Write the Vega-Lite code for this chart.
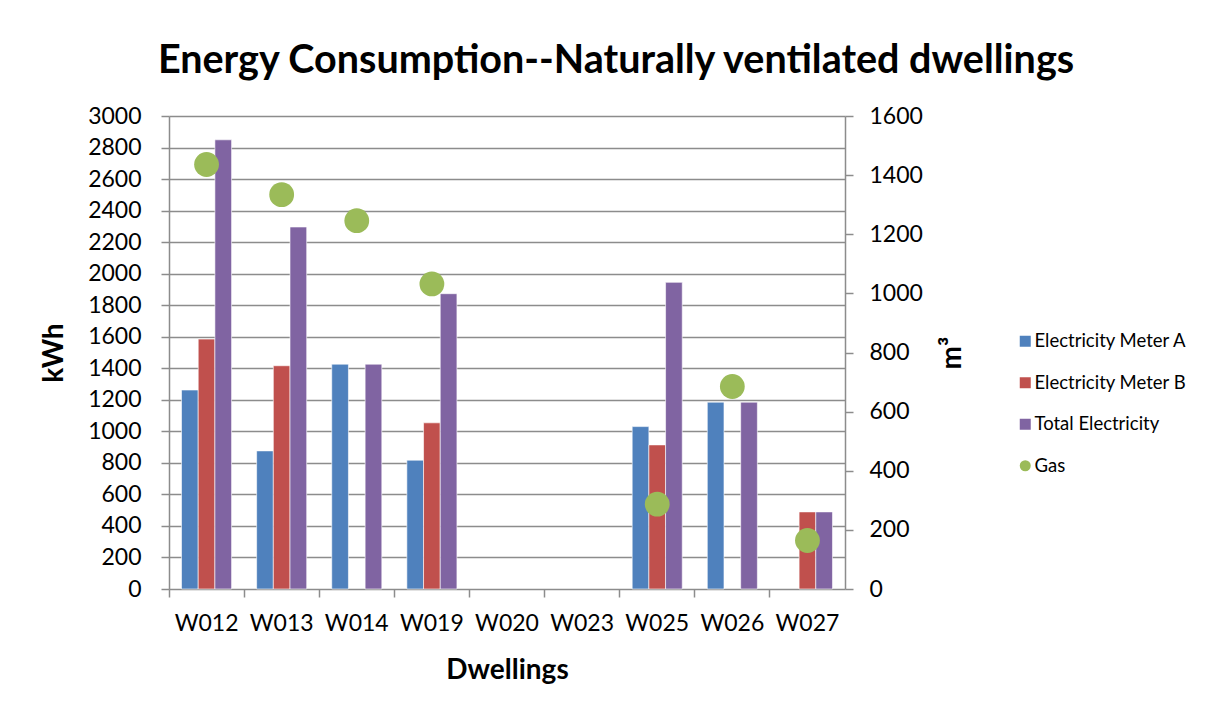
{
  "$schema": "https://vega.github.io/schema/vega-lite/v6.json",
  "width": 676,
  "height": 473,
  "autosize": {"type": "none"},
  "padding": {"left": 169, "top": 116, "right": 370, "bottom": 122},
  "background": "white",
  "config": {
    "font": "Lato",
    "view": {"stroke": null},
    "axis": {
      "labelColor": "black",
      "labelFontSize": 23,
      "labelFont": "Lato",
      "titleColor": "black",
      "titleFont": "Lato",
      "titleFontSize": 28,
      "titleFontWeight": "bold",
      "domainColor": "#8c8c8c",
      "tickColor": "#8c8c8c",
      "gridColor": "#8c8c8c",
      "domainWidth": 1.5,
      "tickWidth": 1.5,
      "gridWidth": 1.5,
      "tickSize": 8
    }
  },
  "title": {
    "text": "Energy Consumption--Naturally ventilated dwellings",
    "font": "Lato",
    "fontSize": 39.5,
    "fontWeight": "bold",
    "color": "black",
    "anchor": "middle",
    "frame": "group",
    "baseline": "alphabetic",
    "dx": 109,
    "offset": -7
  },
  "datasets": {
    "elec": [
      {"dwelling": "W012", "series": "Electricity Meter A", "kwh": 1262},
      {"dwelling": "W012", "series": "Electricity Meter B", "kwh": 1585},
      {"dwelling": "W012", "series": "Total Electricity", "kwh": 2849},
      {"dwelling": "W013", "series": "Electricity Meter A", "kwh": 876},
      {"dwelling": "W013", "series": "Electricity Meter B", "kwh": 1416},
      {"dwelling": "W013", "series": "Total Electricity", "kwh": 2296},
      {"dwelling": "W014", "series": "Electricity Meter A", "kwh": 1426},
      {"dwelling": "W014", "series": "Total Electricity", "kwh": 1426},
      {"dwelling": "W019", "series": "Electricity Meter A", "kwh": 817},
      {"dwelling": "W019", "series": "Electricity Meter B", "kwh": 1054},
      {"dwelling": "W019", "series": "Total Electricity", "kwh": 1873},
      {"dwelling": "W025", "series": "Electricity Meter A", "kwh": 1030},
      {"dwelling": "W025", "series": "Electricity Meter B", "kwh": 914},
      {"dwelling": "W025", "series": "Total Electricity", "kwh": 1945},
      {"dwelling": "W026", "series": "Electricity Meter A", "kwh": 1185},
      {"dwelling": "W026", "series": "Total Electricity", "kwh": 1185},
      {"dwelling": "W027", "series": "Electricity Meter B", "kwh": 489},
      {"dwelling": "W027", "series": "Total Electricity", "kwh": 489}
    ],
    "gas": [
      {"dwelling": "W012", "series": "Gas", "m3": 1436},
      {"dwelling": "W013", "series": "Gas", "m3": 1334},
      {"dwelling": "W014", "series": "Gas", "m3": 1246},
      {"dwelling": "W019", "series": "Gas", "m3": 1032},
      {"dwelling": "W025", "series": "Gas", "m3": 287},
      {"dwelling": "W026", "series": "Gas", "m3": 685},
      {"dwelling": "W027", "series": "Gas", "m3": 164}
    ]
  },
  "layer": [
    {
      "data": {"name": "elec"},
      "mark": {"type": "bar", "stroke": "white", "strokeWidth": 0.6},
      "encoding": {
        "x": {
          "field": "dwelling",
          "type": "nominal",
          "scale": {"domain": ["W012", "W013", "W014", "W019", "W020", "W023", "W025", "W026", "W027"], "paddingInner": 0, "paddingOuter": 0},
          "axis": {"title": "Dwellings", "labelAngle": 0, "bandPosition": 0, "labelPadding": 15, "titlePadding": 21, "domain": false}
        },
        "xOffset": {
          "field": "series",
          "type": "nominal",
          "scale": {"domain": ["Electricity Meter A", "Electricity Meter B", "Total Electricity"], "paddingOuter": 0.75, "paddingInner": 0}
        },
        "y": {
          "field": "kwh",
          "type": "quantitative",
          "scale": {"domain": [0, 3000], "nice": false},
          "axis": {"title": "kWh", "orient": "left", "format": "d", "values": [0,200,400,600,800,1000,1200,1400,1600,1800,2000,2200,2400,2600,2800,3000], "grid": true, "labelPadding": 20, "titlePadding": 19}
        },
        "color": {
          "field": "series",
          "type": "nominal",
          "scale": {"domain": ["Electricity Meter A", "Electricity Meter B", "Total Electricity", "Gas"], "range": ["#4F81BD", "#C0504D", "#8064A2", "#9BBB59"]},
          "legend": {
            "title": null,
            "orient": "none",
            "legendX": 847,
            "legendY": 216,
            "labelFontSize": 18.5,
            "labelColor": "black",
            "labelFont": "Lato",
            "symbolSize": 121,
            "symbolStrokeWidth": 0,
            "rowPadding": 22.5,
            "labelOffset": 0
          }
        }
      }
    },
    {
      "data": {"name": "gas"},
      "mark": {"type": "point", "filled": true, "size": 615, "opacity": 1},
      "encoding": {
        "x": {"field": "dwelling", "type": "nominal"},
        "y": {
          "field": "m3",
          "type": "quantitative",
          "scale": {"domain": [0, 1600], "nice": false},
          "axis": {"title": "m³", "orient": "right", "format": "d", "titleAngle": 270, "values": [0,200,400,600,800,1000,1200,1400,1600], "grid": false, "labelPadding": 16, "titlePadding": 44}
        },
        "color": {"field": "series", "type": "nominal"},
        "shape": {
          "field": "series",
          "type": "nominal",
          "scale": {"domain": ["Electricity Meter A", "Electricity Meter B", "Total Electricity", "Gas"], "range": ["square", "square", "square", "circle"]},
          "legend": {
            "title": null,
            "orient": "none",
            "legendX": 847,
            "legendY": 216,
            "labelFontSize": 18.5,
            "labelColor": "black",
            "labelFont": "Lato",
            "symbolSize": 121,
            "symbolStrokeWidth": 0,
            "rowPadding": 22.5,
            "labelOffset": 0
          }
        }
      }
    }
  ],
  "resolve": {"scale": {"y": "independent"}}
}
